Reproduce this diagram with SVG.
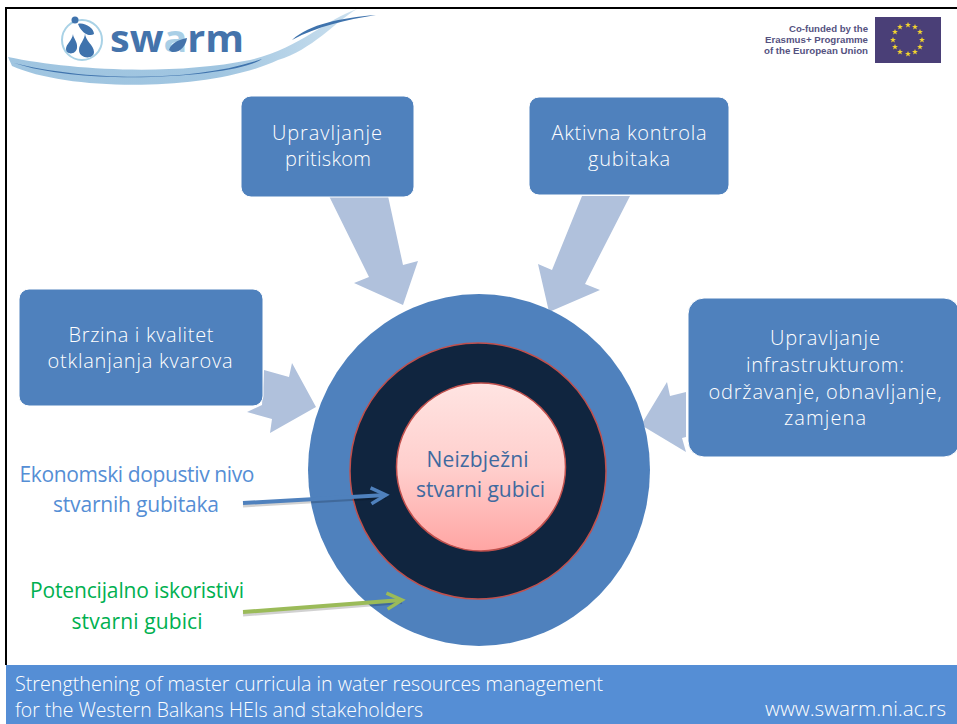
<svg xmlns="http://www.w3.org/2000/svg" width="957" height="724" viewBox="0 0 957 724">
<style>
.b{font-family:"Open Sans","Liberation Sans",sans-serif;font-size:20px;fill:#fff;font-weight:300;text-anchor:middle}
.box{fill:#4f81bd;stroke:#fff;stroke-width:1}
.ar{fill:#b0c1dc}
.f{font-family:"Open Sans","Liberation Sans",sans-serif;font-size:21px;fill:#fff;font-weight:300}
.l{font-family:"Open Sans","Liberation Sans",sans-serif;font-size:21px;text-anchor:middle}
.c{font-family:"Open Sans","Liberation Sans",sans-serif;font-size:21px;fill:#3f6a9f;text-anchor:middle}
.eu{font-family:"Liberation Sans",sans-serif;font-size:9.5px;font-weight:700;fill:#55527f;text-anchor:end}
</style>
<defs>
<linearGradient id="pink" x1="0" y1="0" x2="0" y2="1"><stop offset="0" stop-color="#ffe4e2"/><stop offset="0.5" stop-color="#ffcfcd"/><stop offset="1" stop-color="#ffa5a3"/></linearGradient>
<linearGradient id="sw" x1="0" x2="1"><stop offset="0" stop-color="#8fbbdb"/><stop offset="0.6" stop-color="#8fbbdb"/><stop offset="1" stop-color="#c3dbec"/></linearGradient>
<marker id="mb" markerUnits="userSpaceOnUse" markerWidth="24" markerHeight="24" refX="18" refY="12" orient="auto"><path d="M3 4L18 12L3 20" fill="none" stroke="#4f81bd" stroke-width="3.5"/></marker>
<marker id="mg" markerUnits="userSpaceOnUse" markerWidth="24" markerHeight="24" refX="18" refY="12" orient="auto"><path d="M3 4L18 12L3 20" fill="none" stroke="#9bbb59" stroke-width="3.5"/></marker>
<polygon id="st" points="0,-3 0.8,-1 3,-1 1.2,0.3 1.9,2.5 0,1.2 -1.9,2.5 -1.2,0.3 -3,-1 -0.8,-1" fill="#f2d42e"/>
</defs>
<rect width="957" height="724" fill="#fff"/>
<path d="M5 8H957" stroke="#000" stroke-width="2"/>
<path d="M6 8V665" stroke="#000" stroke-width="2"/>

<g id="logo">
<path d="M8 57C70 70 170 76 250 60C300 48 325 20 357 9C335 22 312 50 278 60C210 92 70 92 12 66Z" fill="url(#sw)" opacity="0.85"/>
<path d="M14 63C80 80 190 84 262 59C240 76 90 88 14 63Z" fill="#3f73ad"/>
<path d="M292 40C310 24 340 18 376 15C345 20 318 26 292 40Z" fill="#3f73ad"/>
<circle cx="82" cy="40" r="20" fill="none" stroke="#a9d2e6" stroke-width="2"/>
<circle cx="75" cy="20" r="3.5" fill="#3f73ad"/>
<path d="M78 24C84 22 94 28 94 34C90 37 82 34 78 24Z M73 34C72 41 66 44 66 49C66 55 76 55 77 48C78 42 73 38 73 34Z M85 33C85 41 94 45 94 52C94 60 79 59 79 50C79 44 85 40 85 33Z" fill="#3f73ad"/>
<text x="110" y="52" font-family="'Open Sans','Liberation Sans',sans-serif" font-size="37" font-weight="700" fill="#4473ab" textLength="134" lengthAdjust="spacingAndGlyphs">sw<tspan fill="#a9cfe6">a</tspan>rm</text>
<path d="M169 50C171 43 178 40 187 38C186 46 180 53 172 52Z" fill="#4473ab"/>
</g>

<g id="eu">
<text class="eu" x="868" y="32" textLength="79" lengthAdjust="spacingAndGlyphs">Co-funded by the</text>
<text class="eu" x="868" y="43" textLength="103" lengthAdjust="spacingAndGlyphs">Erasmus+ Programme</text>
<text class="eu" x="868" y="54" textLength="104" lengthAdjust="spacingAndGlyphs">of the European Union</text>
<rect x="875" y="17" width="66" height="46" fill="#4a3f77"/>
<use href="#st" x="908" y="25"/><use href="#st" x="915" y="27"/><use href="#st" x="920" y="32"/><use href="#st" x="922" y="40"/><use href="#st" x="920" y="47"/><use href="#st" x="915" y="52"/><use href="#st" x="908" y="54"/><use href="#st" x="900" y="52"/><use href="#st" x="895" y="47"/><use href="#st" x="893" y="40"/><use href="#st" x="895" y="32"/><use href="#st" x="900" y="27"/>
</g>

<g id="connectors">
<path class="ar" d="M329 196L388 196L403 265L418 261L403 305L354 283L369 277Z"/>
<path class="ar" d="M582 196L630 196L585 284L600 290L549 312L538 264L552 270Z"/>
<path class="ar" d="M264 370L289 377L292 363L316 407L270 433L272 419L247 412L262 405Z"/>
<path class="ar" d="M686 392L670 396L667 382L641 425L686 452L682 438L686 437Z"/>
</g>

<g id="ring-outer"><ellipse cx="479" cy="470" rx="171" ry="176" fill="#4f81bd"/></g>
<g id="ring-dark"><circle cx="478" cy="471" r="128" fill="#10253f" stroke="#c0504d" stroke-width="1.5"/></g>
<g id="core">
<ellipse cx="481" cy="467" rx="84.500" ry="84" fill="url(#pink)" stroke="#c0504d" stroke-width="1.500"/>
<text class="c" x="477.500" y="467" textLength="102" lengthAdjust="spacing">Neizbježni</text>
<text class="c" x="480.500" y="497" textLength="129" lengthAdjust="spacing">stvarni gubici</text>
</g>

<g id="n1"><rect class="box" x="241" y="96" width="173" height="101" rx="10"/>
<text class="b" x="327" y="140" textLength="110" lengthAdjust="spacing">Upravljanje</text><text class="b" x="328" y="166" textLength="86" lengthAdjust="spacing">pritiskom</text></g>
<g id="n2"><rect class="box" x="529" y="97" width="200" height="98" rx="10"/>
<text class="b" x="629" y="140" textLength="155" lengthAdjust="spacing">Aktivna kontrola</text><text class="b" x="629" y="166" textLength="82" lengthAdjust="spacing">gubitaka</text></g>
<g id="n3"><rect class="box" x="19" y="289" width="244" height="117" rx="10"/>
<text class="b" x="141" y="342" textLength="145" lengthAdjust="spacing">Brzina i kvalitet</text><text class="b" x="140" y="368" textLength="185" lengthAdjust="spacing">otklanjanja kvarova</text></g>
<g id="n4"><rect class="box" x="688" y="298" width="272" height="159" rx="16"/>
<text class="b" x="825" y="345" textLength="110" lengthAdjust="spacing">Upravljanje</text><text class="b" x="825" y="372" textLength="158" lengthAdjust="spacing">infrastrukturom:</text><text class="b" x="825" y="399" textLength="233" lengthAdjust="spacing">održavanje, obnavljanje,</text><text class="b" x="825" y="425" textLength="82" lengthAdjust="spacing">zamjena</text></g>

<g id="label-economic">
<text class="l" x="137" y="482" fill="#558ed5" textLength="235" lengthAdjust="spacing">Ekonomski dopustiv nivo</text>
<text class="l" x="136" y="512" fill="#558ed5" textLength="166" lengthAdjust="spacing">stvarnih gubitaka</text>
<path d="M243 505.500L386 497" stroke="#000" stroke-opacity="0.18" stroke-width="4" fill="none"/>
<path d="M243 503L386 495" stroke="#4f81bd" stroke-width="4" marker-end="url(#mb)" fill="none"/>
</g>
<g id="label-potential">
<text class="l" x="137" y="598" fill="#00b050" textLength="214" lengthAdjust="spacing">Potencijalno iskoristivi</text>
<text class="l" x="137" y="629" fill="#00b050" textLength="131" lengthAdjust="spacing">stvarni gubici</text>
<path d="M243 614.500L402 602" stroke="#000" stroke-opacity="0.18" stroke-width="4" fill="none"/>
<path d="M243 612L402 600" stroke="#9bbb59" stroke-width="4" marker-end="url(#mg)" fill="none"/>
</g>

<g id="footer">
<rect x="6" y="665" width="951" height="59" fill="#558ed5"/>
<text class="f" x="15" y="691" textLength="588" lengthAdjust="spacingAndGlyphs">Strengthening of master curricula in water resources  management</text>
<text class="f" x="15" y="717" textLength="408" lengthAdjust="spacingAndGlyphs">for the Western Balkans HEIs and stakeholders</text>
<text class="f" x="765" y="716" textLength="181" lengthAdjust="spacingAndGlyphs">www.swarm.ni.ac.rs</text>
</g>
</svg>
